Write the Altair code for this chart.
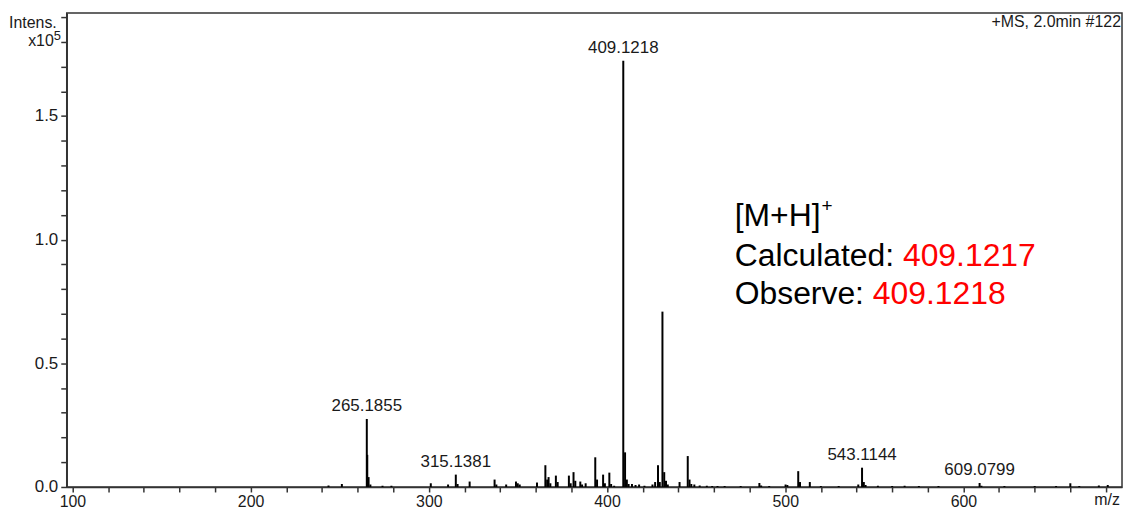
import altair as alt
import pandas as pd

# ---- peak list (m/z, intensity in x10^5) ----
peak_mz = [243.7, 251.2, 265.19, 265.45, 266.19, 267.2, 274.0, 279.0,
           301.1, 310.8, 315.14, 316.14, 322.9, 336.9, 337.9, 343.4, 348.9, 349.9, 351.0,
           360.7, 365.4, 366.4, 367.2, 368.2, 371.3, 372.3, 378.6, 379.6, 381.2, 382.2,
           385.0, 386.0, 388.0, 393.4, 394.4, 397.8, 398.8, 401.3, 402.3, 404.0,
           409.12, 410.12, 411.12, 412.1, 414.0, 416.0, 418.0, 421.0, 425.5, 427.0,
           428.6, 429.6, 431.10, 432.10, 433.1, 434.1, 440.7, 445.3, 446.3, 447.3,
           449.0, 452.0, 456.0, 459.0, 462.0, 466.0, 475.0, 485.5, 486.5, 491.0,
           500.2, 501.2, 507.3, 508.3, 513.8, 520.0, 530.0, 541.0, 543.11, 544.11,
           545.1, 552.0, 560.0, 567.0, 575.0, 586.0, 609.08, 610.1, 623.0, 640.0,
           652.0, 660.0, 665.0, 676.0, 681.0]
peak_int = [0.006, 0.012, 0.275, 0.13, 0.04, 0.01, 0.005, 0.005,
            0.015, 0.01, 0.05, 0.012, 0.022, 0.03, 0.01, 0.01, 0.022, 0.015, 0.01,
            0.018, 0.088, 0.03, 0.04, 0.015, 0.046, 0.02, 0.046, 0.015, 0.06, 0.025,
            0.022, 0.01, 0.015, 0.12, 0.03, 0.05, 0.015, 0.058, 0.012, 0.005,
            1.723, 0.14, 0.03, 0.012, 0.012, 0.008, 0.01, 0.005, 0.01, 0.02,
            0.088, 0.02, 0.709, 0.06, 0.025, 0.01, 0.02, 0.125, 0.03, 0.012,
            0.01, 0.006, 0.005, 0.004, 0.004, 0.004, 0.004, 0.016, 0.006, 0.004,
            0.01, 0.008, 0.064, 0.02, 0.02, 0.004, 0.004, 0.01, 0.078, 0.02,
            0.008, 0.005, 0.004, 0.005, 0.004, 0.004, 0.016, 0.005, 0.004, 0.004,
            0.004, 0.015, 0.004, 0.006, 0.008]

# ---- labelled peaks ----
label_mz = [265.1855, 315.1381, 409.1218, 543.1144, 609.0799]
label_int = [0.275, 0.05, 1.723, 0.078, 0.016]

x_ticks = list(range(100, 681, 20))
y_ticks = [round(i * 0.1, 1) for i in range(0, 20)]

W, H = 1060, 476
FONT = "Liberation Sans"

peaks = pd.DataFrame({"mz": peak_mz, "intensity": peak_int, "base": [0.0] * len(peak_mz)})
labels = pd.DataFrame({"mz": label_mz, "intensity": label_int,
                       "text": [f"{v:.4f}" for v in label_mz]})

xscale = alt.Scale(domain=[96.8, 689.0], nice=False, zero=False)
yscale = alt.Scale(domain=[0, 1.916], nice=False, zero=True)

xaxis = alt.Axis(values=x_ticks, labelExpr="datum.value % 100 == 0 ? datum.label : ''",
                 title=None, grid=False, tickSize=5, labelPadding=2, labelFlush=False,
                 labelOverlap=False, labelFontSize=16)
yaxis = alt.Axis(values=y_ticks, format=".1f",
                 labelExpr="(round(datum.value*10) % 5 == 0) ? datum.label : ''",
                 title=None, grid=False, tickSize=6, labelPadding=3, labelOverlap=False,
                 labelFontSize=17)

X = alt.X("mz:Q", scale=xscale, axis=xaxis)
Y = alt.Y("intensity:Q", scale=yscale, axis=yaxis)

rules = alt.Chart(peaks).mark_rule(color="black", strokeWidth=2).encode(
    x=X, y=Y, y2="base:Q",
)

peak_labels = alt.Chart(labels).mark_text(
    font=FONT, fontSize=17, color="#1a1a1a", baseline="bottom", align="center", dy=-4
).encode(x=X, y=Y, text="text:N")


def txt(s, x, y, size, color="#1a1a1a", align="left"):
    return alt.Chart(pd.DataFrame({"t": [s]})).mark_text(
        font=FONT, fontSize=size, color=color, align=align, baseline="alphabetic"
    ).encode(x=alt.value(x), y=alt.value(y), text="t:N")


ann = 32
calc_w = 5.28 * ann
obs_w = 4.335 * ann
bracket_w = 2.695 * ann
dy0 = 2  # plot top sits 2px higher than in the reference

texts = [
    txt("Intens.", -10, 13 + dy0, 16, align="right"),
    txt("x10", -13, 31 + dy0, 16, align="right"),
    txt("5", -13, 25 + dy0, 13, align="left"),
    txt("+MS, 2.0min #122", W - 1, 12 + dy0, 16, align="right"),
    txt("m/z", W - 15, H + 18, 16, align="center"),
    txt("[M+H]", 671, 212 + dy0, ann, color="black"),
    txt("+", 671 + bracket_w + 1, 198 + dy0, 19, color="black"),
    txt("Calculated: ", 671, 252 + dy0, ann, color="black"),
    txt("409.1217", 671 + calc_w, 252 + dy0, ann, color="#ff0000"),
    txt("Observe: ", 671, 290 + dy0, ann, color="black"),
    txt("409.1218", 671 + obs_w, 290 + dy0, ann, color="#ff0000"),
]

chart = alt.layer(rules, peak_labels, *texts).properties(
    width=W, height=H,
    autosize=alt.AutoSizeParams(type="none"),
    padding={"left": 59, "top": 4, "right": 2, "bottom": 23},
).configure_view(
    stroke="#333333", strokeWidth=1.5
).configure_axis(
    domainColor="#333333", domainWidth=1.5, tickColor="#333333", tickWidth=1.5,
    labelFont=FONT, labelColor="#1a1a1a"
)

chart.save("out.html", embed_options={"renderer": "svg", "actions": False})
